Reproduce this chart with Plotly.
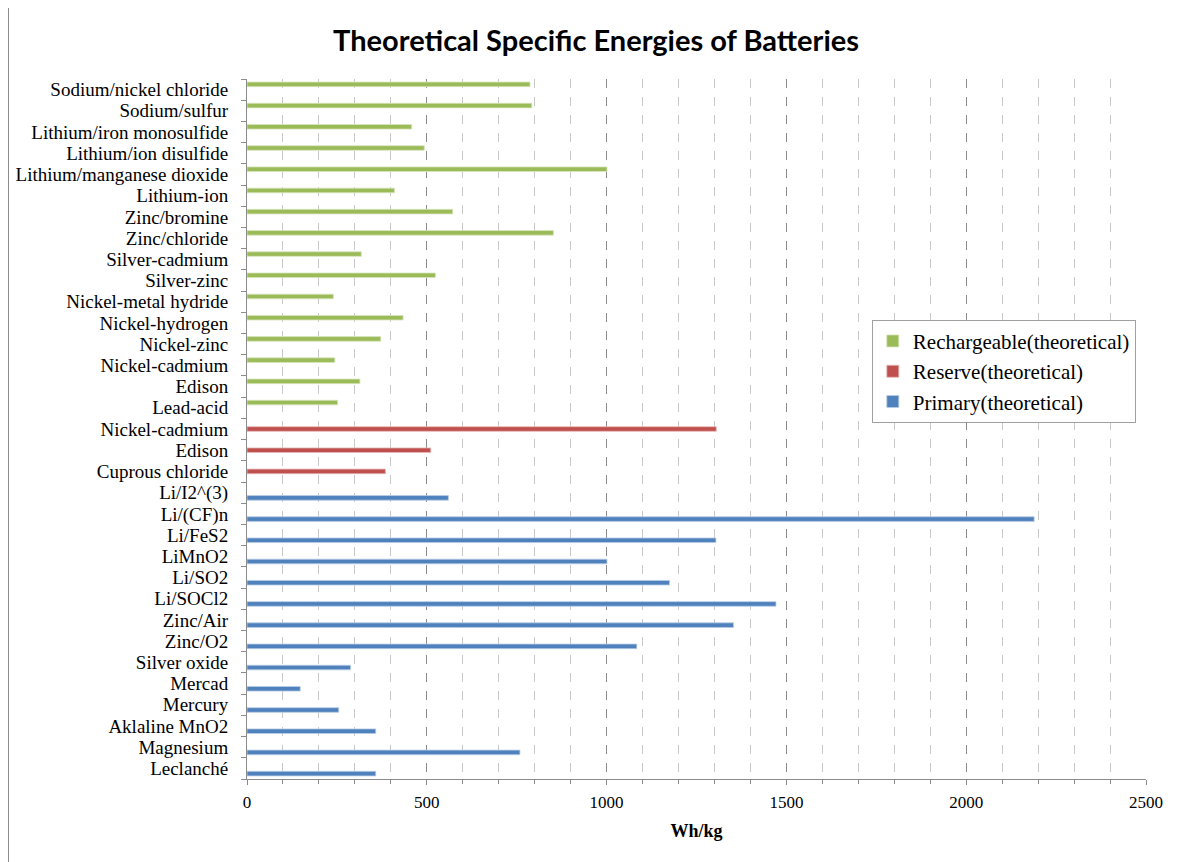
import plotly.graph_objects as go

# categories, bottom to top
primary_names = ['Leclanché', 'Magnesium', 'Aklaline MnO2', 'Mercury', 'Mercad',
                 'Silver oxide', 'Zinc/O2', 'Zinc/Air', 'Li/SOCl2', 'Li/SO2',
                 'LiMnO2', 'Li/FeS2', 'Li/(CF)n', 'Li/I2^(3)']
primary_vals = [358, 759, 358, 255, 148, 288, 1084, 1353, 1471, 1175,
                1001, 1304, 2189, 560]

reserve_names = ['Cuprous chloride', 'Edison', 'Nickel-cadmium']
reserve_vals = [385, 511, 1305]

recharge_names = ['Lead-acid', 'Edison', 'Nickel-cadmium', 'Nickel-zinc',
                  'Nickel-hydrogen', 'Nickel-metal hydride', 'Silver-zinc',
                  'Silver-cadmium', 'Zinc/chloride', 'Zinc/bromine', 'Lithium-ion',
                  'Lithium/manganese dioxide', 'Lithium/ion disulfide',
                  'Lithium/iron monosulfide', 'Sodium/sulfur', 'Sodium/nickel chloride']
recharge_vals = [252, 314, 244, 372, 434, 240, 524, 318, 852, 572, 410,
                 1001, 493, 458, 792, 787]

labels = primary_names + reserve_names + recharge_names
pos = list(range(len(labels)))
n1, n2 = len(primary_names), len(reserve_names)

def fill(vals, start):
    out = [None] * len(labels)
    for i, v in enumerate(vals):
        out[start + i] = v
    return out

serif = 'Liberation Serif'

fig = go.Figure()
fig.add_trace(go.Bar(name='Primary(theoretical)', y=pos, x=fill(primary_vals, 0),
                     orientation='h', marker_color='#4F81BD',
                     marker_line=dict(color='#b9cde6', width=0.8),
                     legendrank=3, legendgroup='p'))
fig.add_trace(go.Bar(name='Reserve(theoretical)', y=pos, x=fill(reserve_vals, n1),
                     orientation='h', marker_color='#C0504D',
                     marker_line=dict(color='#e6b9b8', width=0.8),
                     legendrank=2, legendgroup='r'))
fig.add_trace(go.Bar(name='Rechargeable(theoretical)', y=pos, x=fill(recharge_vals, n1 + n2),
                     orientation='h', marker_color='#9BBB59',
                     marker_line=dict(color='#d7e4bd', width=0.8),
                     legendrank=1, legendgroup='c'))

# plot area: page x 247..1146, y 79..779 (page has an 8px body margin)
fig.update_layout(
    width=1188, height=862,
    margin=dict(l=239, r=50, t=71, b=91),
    paper_bgcolor='white', plot_bgcolor='white',
    barmode='group', bargap=0.26, bargroupgap=0.12,
    title=dict(text='<b>Theoretical Specific Energies of Batteries</b>',
               x=0.495, xanchor='center', y=0.962, yanchor='middle',
               font=dict(family='Lato', size=29, color='black')),
    font=dict(family=serif, size=19, color='black'),
    legend=dict(x=0.695, y=0.656, xanchor='left', yanchor='top',
                traceorder='grouped', tracegroupgap=0, itemwidth=30,
                bordercolor='#a0a0a0', borderwidth=1, bgcolor='white',
                font=dict(family=serif, size=21)),
    showlegend=True,
)

fig.update_xaxes(
    range=[0, 2500], dtick=500, tickformat='d', automargin=False,
    tickfont=dict(family=serif, size=17), ticklabelstandoff=3,
    showline=True, linecolor='#8c8c8c', linewidth=1,
    ticks='outside', ticklen=5, tickcolor='#8c8c8c',
    showgrid=True, gridcolor='#8c8c8c', griddash='dash', gridwidth=1,
    minor=dict(dtick=100, showgrid=True, gridcolor='#c8c8c8', griddash='dash',
               ticks='outside', ticklen=4, tickcolor='#8c8c8c'),
    zeroline=False,
    title=dict(text='<b>Wh/kg</b>', font=dict(family=serif, size=18), standoff=12),
)

fig.update_yaxes(
    range=[-0.5, len(labels) - 0.5], automargin=False,
    tickvals=pos, ticktext=labels,
    showline=True, linecolor='#8c8c8c', linewidth=1,
    ticks='outside', ticklen=14, tickcolor='rgba(0,0,0,0)',
    showgrid=False, zeroline=False,
    minor=dict(tickvals=[p - 0.5 for p in pos] + [len(labels) - 0.5],
               ticks='outside', ticklen=5, tickcolor='#8c8c8c', showgrid=False),
)

# chart frame, left and right edges
for xpx in (0.5, 1177):
    fig.add_shape(type='line', xref='paper', yref='paper',
                  x0=(xpx - 239) / 899, x1=(xpx - 239) / 899,
                  y0=-91 / 700, y1=771 / 700,
                  line=dict(color='#8c8c8c', width=1))

fig.write_html('out.html')
